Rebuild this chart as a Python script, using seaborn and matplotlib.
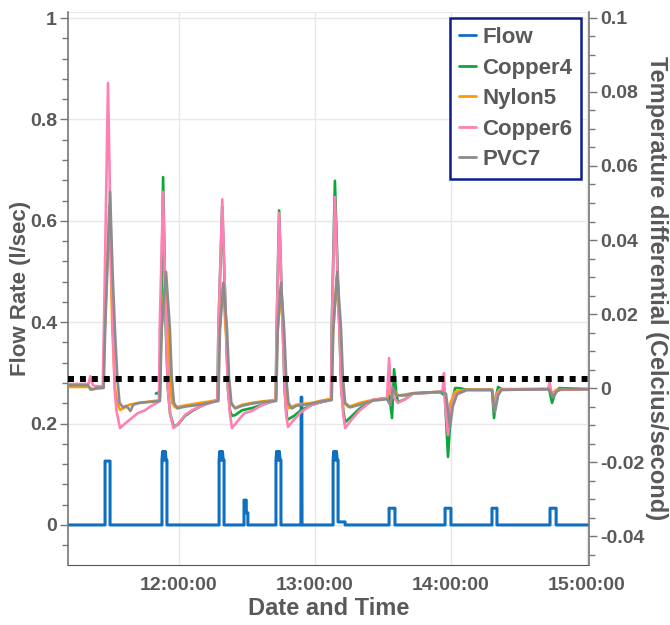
import numpy as np
import pandas as pd
import matplotlib
matplotlib.use("Agg")
import matplotlib.pyplot as plt
import matplotlib.dates as mdates
from matplotlib.ticker import MultipleLocator, FuncFormatter
import seaborn as sns

# ---------------- data (time in minutes after 11:00) ----------------
BASE = "2019-06-01 11:00:00"
x_start, x_end = 11.25, 241.1

flow_min = [11.25, 27.6, 27.6, 29.8, 29.8,
            52.7, 52.7, 53.0, 53.3, 53.6, 53.9, 54.2, 54.5, 54.9, 54.9,
            77.9, 77.9, 78.2, 78.5, 78.8, 79.1, 79.4, 79.7, 80.1, 80.1,
            88.9, 88.9, 89.9, 89.9, 90.6, 90.6,
            103.0, 103.0, 103.3, 103.6, 103.9, 104.2, 104.5, 104.8, 105.2, 105.2,
            114.0, 114.1, 114.4, 114.5,
            128.2, 128.2, 128.5, 128.8, 129.1, 129.4, 129.7, 130.0, 130.4, 130.4, 133.5, 133.5,
            152.9, 152.9, 155.5, 155.5,
            177.6, 177.6, 180.2, 180.2,
            198.3, 198.3, 200.5, 200.5,
            223.9, 223.9, 226.6, 226.6,
            241.1]
flow_val = [0, 0, 0.126, 0.126, 0,
            0, 0.128, 0.145, 0.128, 0.145, 0.128, 0.145, 0.128, 0.128, 0,
            0, 0.128, 0.145, 0.128, 0.145, 0.128, 0.145, 0.128, 0.128, 0,
            0, 0.049, 0.049, 0.024, 0.024, 0,
            0, 0.128, 0.145, 0.128, 0.145, 0.128, 0.145, 0.128, 0.128, 0,
            0, 0.252, 0.252, 0,
            0, 0.128, 0.145, 0.128, 0.145, 0.128, 0.145, 0.128, 0.128, 0.006, 0.006, 0,
            0, 0.033, 0.033, 0,
            0, 0.033, 0.033, 0,
            0, 0.033, 0.033, 0,
            0, 0.033, 0.033, 0,
            0]

copper4_min = [50.0, 51.0, 51.8,
               52.3, 53.2, 54.4, 55.3, 56.3, 58.0, 59.8, 62.9, 66.0, 69.5, 74.0, 77.2,
               77.6, 79.3, 81.0, 81.8, 82.7, 83.6, 85.0, 88.0, 92.4, 97.0, 102.9,
               103.3, 104.4, 106.0, 106.8, 107.5, 108.0, 111.0, 114.0, 118.9, 123.0, 127.3,
               127.6, 129.0, 131.0, 131.8, 132.7, 133.5, 135.7, 140.0, 145.8, 152.0,
               153.0, 154.2, 155.1, 156.0, 156.8, 160.0, 163.4, 175.4, 177.5,
               178.9, 180.3, 182.0, 184.0, 187.3, 198.3, 199.2, 200.2, 201.0, 202.5,
               223.5, 224.8, 226.3, 228.0, 241.1]
copper4_val = [-0.0015, -0.0012, -0.0025,
               0.016, 0.057, 0.016, 0.0, -0.007, -0.0105, -0.0098, -0.0075, -0.0062, -0.005, -0.0038, -0.0033,
               0.016, 0.049, 0.016, 0.0, -0.006, -0.0075, -0.0073, -0.006, -0.0054, -0.0045, -0.0033,
               0.016, 0.048, 0.016, 0.0, -0.006, -0.0086, -0.0075, -0.006, -0.0045, -0.0038, -0.0032,
               0.016, 0.056, 0.016, 0.0, -0.006, -0.0092, -0.008, -0.0055, -0.0032, -0.0027,
               -0.002, -0.0081, 0.0051, -0.001, -0.0038, -0.003, -0.0015, -0.0011, -0.002,
               -0.0186, -0.005, 0.0, 0.0, -0.0005, -0.0005, -0.0081, -0.002, 0.0003, -0.0003,
               -0.0003, -0.004, -0.001, 0.0, -0.0003]

nylon5_min = [11.25, 20.5, 22.0, 26.8,
              27.5, 29.5, 30.8, 32.0, 33.0, 34.2,
              36.5, 38.2, 42.6, 48.0, 51.6,
              52.2, 54.2, 55.6, 56.4, 57.2, 58.5,
              62.9, 69.5, 74.0, 77.4,
              78.0, 79.6, 81.0, 81.9, 82.8, 84.9,
              88.0, 92.4, 97.0, 102.9,
              103.6, 105.0, 106.3, 107.1, 107.9, 108.8,
              112.0, 118.9, 123.0, 127.4,
              128.1, 129.8, 131.2, 132.0, 132.8, 135.0,
              140.0, 145.8, 152.0,
              153.2, 154.2, 155.4, 157.0, 163.4, 175.4, 177.4,
              178.7, 180.0, 182.0, 187.3, 198.3, 199.4, 200.8, 201.8,
              223.5, 224.8, 226.6, 241.1]
nylon5_val = [0.0003, 0.0003, -0.0003, 0.0,
              0.016, 0.049, 0.016, 0.0, -0.004, -0.0059,
              -0.0052, -0.0045, -0.004, -0.0036, -0.0033,
              0.014, 0.029, 0.014, 0.0, -0.004, -0.0052,
              -0.0047, -0.004, -0.0036, -0.0032,
              0.014, 0.0284, 0.014, 0.0, -0.004, -0.0054,
              -0.0045, -0.004, -0.0036, -0.0032,
              0.014, 0.0265, 0.014, 0.0, -0.004, -0.0054,
              -0.0045, -0.004, -0.0034, -0.0029,
              0.014, 0.030, 0.014, 0.0, -0.004, -0.0051,
              -0.004, -0.0032, -0.0027,
              0.0, -0.002, -0.0008, -0.002, -0.0014, -0.001, -0.001,
              -0.0095, -0.004, -0.001, -0.0004, -0.0004, -0.004, -0.001, -0.0004,
              -0.0002, -0.0015, -0.0005, -0.0003]

copper6_min = [11.25, 20.3, 21.1, 22.2, 23.2, 26.6,
               27.2, 28.9, 30.4, 31.8, 32.6, 34.2,
               36.0, 38.2, 42.0, 45.2, 48.0, 51.0, 51.4,
               51.7, 53.2, 54.5, 55.3, 56.3, 57.8,
               60.0, 63.0, 66.0, 69.5, 74.0, 77.2,
               77.6, 79.3, 81.0, 81.8, 82.7, 83.6,
               86.0, 89.0, 92.4, 97.0, 102.9,
               103.3, 104.4, 106.0, 106.8, 107.5, 108.3,
               111.0, 114.0, 118.9, 123.0, 127.3,
               127.6, 129.0, 131.0, 131.8, 132.7, 133.5,
               135.7, 140.0, 145.8, 152.0,
               152.9, 153.6, 154.4, 156.8, 160.0, 163.4, 175.4,
               176.5, 177.1, 177.7, 178.9, 180.0, 182.0, 187.3,
               198.3, 199.2, 200.5, 201.8,
               223.0, 223.7, 224.8, 226.6, 228.4, 241.1]
copper6_val = [0.0011, 0.0011, 0.0032, 0.0008, 0.0005, 0.0005,
               0.02, 0.0824, 0.03, 0.0, -0.006, -0.0108,
               -0.0098, -0.0087, -0.0068, -0.006, -0.0048, -0.0038, -0.0035,
               0.016, 0.053, 0.016, 0.0, -0.007, -0.0108,
               -0.0095, -0.0072, -0.006, -0.005, -0.004, -0.0033,
               0.016, 0.051, 0.016, 0.0, -0.007, -0.0108,
               -0.009, -0.0068, -0.0062, -0.0045, -0.0033,
               0.016, 0.0473, 0.016, 0.0, -0.007, -0.0105,
               -0.0085, -0.0065, -0.0045, -0.0038, -0.0032,
               0.016, 0.0516, 0.016, 0.0, -0.007, -0.0108,
               -0.009, -0.006, -0.0032, -0.0027,
               0.0081, 0.0, -0.002, -0.004, -0.003, -0.0015, -0.0011,
               -0.0005, 0.004, -0.005, -0.0127, -0.006, -0.002, -0.0005,
               -0.0005, -0.0054, -0.002, -0.0005,
               -0.0003, 0.0015, -0.0019, -0.001, -0.0003, -0.0003]

pvc7_min = [11.25, 20.0, 21.2, 22.5, 24.0, 27.0,
            27.6, 29.8, 31.0, 32.0, 33.0, 34.0, 35.5, 37.0, 38.8, 40.0, 42.6, 48.0, 51.8,
            52.6, 54.5, 56.2, 57.0, 58.0, 59.5, 62.9, 69.5, 74.0, 77.6,
            78.3, 79.8, 81.4, 82.3, 83.3, 85.0, 88.0, 92.4, 97.0, 103.1,
            103.8, 105.2, 106.6, 107.5, 108.5, 110.0, 112.0, 118.9, 123.0, 127.6,
            128.3, 130.0, 131.7, 132.5, 133.5, 135.7, 140.0, 145.8, 152.0,
            153.5, 154.6, 156.0, 160.0, 163.4, 175.4, 178.0,
            179.8, 181.0, 183.0, 187.3, 198.3, 199.6, 201.0, 202.5,
            223.5, 225.2, 227.0, 229.0, 241.1]
pvc7_val = [0.0008, 0.0008, -0.0004, -0.0003, 0.0001, 0.0001,
            0.015, 0.053, 0.03, 0.015, 0.003, -0.004, -0.0052, -0.0048, -0.0062, -0.0045, -0.004, -0.0037, -0.0035,
            0.016, 0.0314, 0.016, 0.003, -0.004, -0.0055, -0.005, -0.0045, -0.0039, -0.0035,
            0.016, 0.0284, 0.016, 0.003, -0.004, -0.0055, -0.0048, -0.0042, -0.0038, -0.0035,
            0.016, 0.0284, 0.016, 0.003, -0.004, -0.0055, -0.0048, -0.0042, -0.0036, -0.0032,
            0.016, 0.0314, 0.016, 0.003, -0.004, -0.0052, -0.0045, -0.0034, -0.003,
            -0.0046, 0.0003, -0.002, -0.002, -0.0014, -0.001, -0.0015,
            -0.0106, -0.005, -0.0015, -0.0005, -0.0005, -0.0065, -0.002, -0.0005,
            -0.0003, -0.0025, -0.0008, -0.0003, -0.0003]

threshold = 0.0025  # dotted reference line (right axis)

series_names = ["Copper4", "Nylon5", "Copper6", "PVC7"]
series_colors = ["#0aa83a", "#ff9a00", "#ff80b4", "#8c8c8c"]
flow_color = "#1070c0"
text_color = "#595959"

# ---------------- helpers ----------------
base = pd.Timestamp(BASE)


def to_dt(mins):
    return base + pd.to_timedelta(np.asarray(mins, dtype=float), unit="m")


# ---------------- figure ----------------
sns.set_style("white")
plt.rcParams["font.family"] = ["Liberation Sans", "DejaVu Sans"]
plt.rcParams["font.weight"] = "bold"
plt.rcParams["axes.labelweight"] = "bold"

fig = plt.figure(figsize=(6.7, 6.25), dpi=100)
fig.patch.set_facecolor("white")
ax = fig.add_axes([68 / 670, 1 - 565 / 625, 521 / 670, 553 / 625])
ax2 = ax.twinx()

# flow on the left axis
flow_df = pd.DataFrame({"time": to_dt(flow_min), "value": flow_val})
sns.lineplot(data=flow_df, x="time", y="value", ax=ax, color=flow_color,
             lw=2.2, estimator=None, sort=False, label="Flow")

# temperature series on the right axis
temp_data = [(copper4_min, copper4_val), (nylon5_min, nylon5_val),
             (copper6_min, copper6_val), (pvc7_min, pvc7_val)]
for name, color, (mins, vals) in zip(series_names, series_colors, temp_data):
    df = pd.DataFrame({"time": to_dt(mins), "value": vals})
    sns.lineplot(data=df, x="time", y="value", ax=ax2, color=color,
                 lw=1.9, estimator=None, sort=False, label=name)

ax2.axhline(threshold, color="black", lw=4.3, linestyle=(0, (1, 1)), zorder=5)

# limits
ax.set_xlim(to_dt([x_start])[0], to_dt([x_end])[0])
ax.set_ylim(-0.079, 1.012)
ax2.set_ylim(-0.0478, 0.1016)

# ticks
ax.xaxis.set_major_locator(mdates.HourLocator())
ax.xaxis.set_major_formatter(mdates.DateFormatter("%H:%M:%S"))
ax.yaxis.set_major_locator(MultipleLocator(0.2))
ax.yaxis.set_minor_locator(MultipleLocator(0.04))
ax.yaxis.set_major_formatter(FuncFormatter(lambda v, _: f"{round(v, 3):g}"))
ax2.yaxis.set_major_locator(MultipleLocator(0.02))
ax2.yaxis.set_minor_locator(MultipleLocator(0.005))
ax2.yaxis.set_major_formatter(FuncFormatter(lambda v, _: f"{round(v, 4) + 0:g}"))

for a in (ax, ax2):
    a.tick_params(axis="y", which="major", direction="out", length=6, width=1,
                  color="#777777", labelsize=14, labelcolor=text_color, pad=2)
    a.tick_params(axis="y", which="minor", direction="out", length=4, width=1,
                  color="#777777")
ax.tick_params(axis="x", which="major", direction="out", length=6, width=1,
               color="#777777", labelsize=14, labelcolor=text_color, pad=3)

# grid
ax.grid(True, which="major", color="#e8e8e8", lw=1)
ax.set_axisbelow(True)
ax2.grid(False)

# spines
for s in ("top", "right"):
    ax.spines[s].set_visible(False)
ax.spines["left"].set_color("#777777")
ax.spines["bottom"].set_color("#555555")
for s in ("left", "top", "bottom"):
    ax2.spines[s].set_visible(False)
ax2.spines["right"].set_color("#777777")
ax.spines["left"].set_linewidth(1.2)
ax2.spines["right"].set_linewidth(1.2)
ax.axhline(1.012, color="#e8e8e8", lw=1.5, zorder=0)

# labels
ax.set_xlabel("Date and Time", fontsize=17, color=text_color, fontweight="bold")
ax.xaxis.set_label_coords(0.5, -0.057)
ax.set_ylabel("Flow Rate (l/sec)", fontsize=16, color=text_color, fontweight="bold")
ax.yaxis.set_label_coords(-0.071, 0.5)
ax2.set_ylabel("Temperature differential (Celcius/second)", fontsize=17,
               color=text_color, fontweight="bold", rotation=270, va="bottom")
ax2.yaxis.set_label_coords(1.107, 0.5)

# legend
h1, l1 = ax.get_legend_handles_labels()
h2, l2 = ax2.get_legend_handles_labels()
if ax.get_legend() is not None:
    ax.get_legend().remove()
if ax2.get_legend() is not None:
    ax2.get_legend().remove()
leg = ax2.legend(h1 + h2, l1 + l2, loc="upper right", bbox_to_anchor=(0.985, 0.989),
                 borderaxespad=0, frameon=True, fancybox=False, framealpha=1,
                 edgecolor="#0b1e8c", prop={"weight": "bold", "size": 16},
                 labelcolor=text_color, handlelength=0.75, handletextpad=0.3,
                 labelspacing=0.43, borderpad=0.4)
leg.get_frame().set_linewidth(1.8)
leg.set_zorder(10)
for line in leg.get_lines():
    line.set_linewidth(2.0)

fig.savefig("out.png", dpi=100, facecolor="white")
